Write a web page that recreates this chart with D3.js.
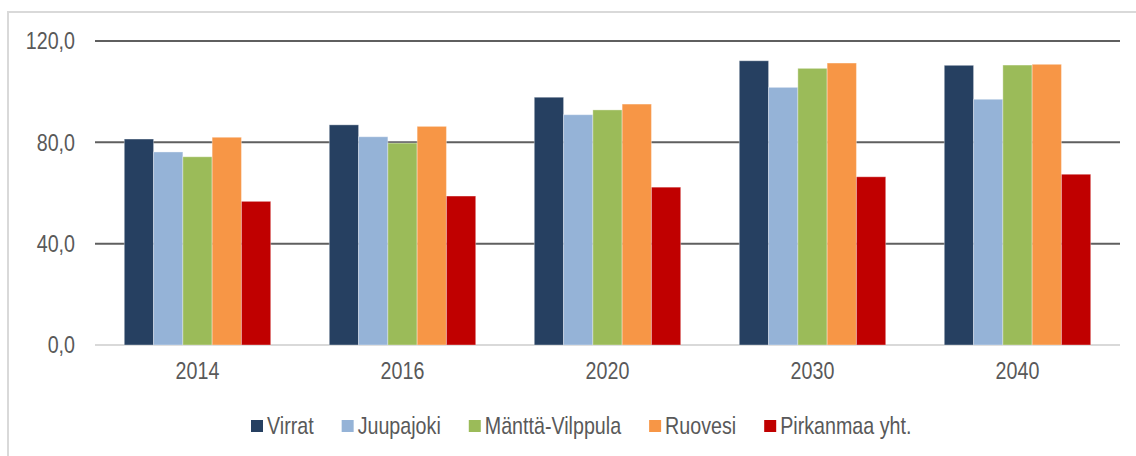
<!DOCTYPE html>
<html lang="fi">
<head>
    <meta charset="UTF-8">
    <title>Pylväskaavio</title>
    <script src="https://d3js.org/d3.v7.min.js"></script>
    <style>
        body {
            margin: 0;
            background: #fff;
        }

        svg {
            font-family: "Liberation Sans", Arial, sans-serif;
        }

        /* narrow look: squeeze the glyphs horizontally */
        .axis text,
        .legend text {
            fill: #595959;
            font-size: 24px;
            transform-box: fill-box;
        }

        .yaxis text {
            transform: scaleX(0.82);
            transform-origin: 100% 50%;
        }

        .xaxis text {
            transform: scaleX(0.82);
            transform-origin: 50% 50%;
        }

        .legend text {
            transform: scaleX(0.82);
            transform-origin: 0% 50%;
        }
    </style>
</head>
<body>
<div id="chart"></div>

<script>

    // data
    var years = ["2014", "2016", "2020", "2030", "2040"];
    var seriesNames = ["Virrat", "Juupajoki", "Mänttä-Vilppula", "Ruovesi", "Pirkanmaa yht."];
    var seriesColors = ["#264061", "#95b3d7", "#9bbb59", "#f79646", "#c00000"];

    var virrat = [81.3, 86.9, 97.8, 112.2, 110.4];
    var juupajoki = [76.2, 82.2, 90.9, 101.7, 97.0];
    var mantta = [74.3, 79.7, 92.8, 109.2, 110.5];
    var ruovesi = [82.0, 86.3, 95.1, 111.3, 110.8];
    var pirkanmaa = [56.7, 58.8, 62.3, 66.4, 67.4];

    var yTicks = [0, 40, 80, 120];

    var values = [virrat, juupajoki, mantta, ruovesi, pirkanmaa];

    // size
    var width = 1136,
        height = 456;
    var plot = {left: 95, right: 1120, top: 41, bottom: 345};
    var squeeze = 0.82;

    var svg = d3.select("#chart").append("svg")
        .attr("width", width)
        .attr("height", height);

    // outer frame
    svg.append("rect")
        .attr("x", 8)
        .attr("y", 12)
        .attr("width", width + 20)
        .attr("height", height + 20)
        .attr("fill", "none")
        .attr("stroke", "#d9d9d9")
        .attr("stroke-width", 2);

    // scales
    var x0 = d3.scaleBand()
        .domain(years)
        .range([plot.left, plot.right])
        .paddingInner(0)
        .paddingOuter(0);

    // gap width 200% -> bars take 5/7 of the category
    var groupWidth = x0.bandwidth() * 5 / 7;
    var x1 = d3.scaleBand()
        .domain(seriesNames)
        .range([0, groupWidth]);

    var y = d3.scaleLinear()
        .domain([0, 120])
        .range([plot.bottom, plot.top]);

    // gridlines
    svg.append("g")
        .selectAll("line")
        .data(yTicks)
        .enter().append("line")
        .attr("x1", plot.left)
        .attr("x2", plot.right)
        .attr("y1", function(d) { return y(d); })
        .attr("y2", function(d) { return y(d); })
        .attr("stroke", function(d) { return d === 0 ? "#d9d9d9" : "#5f5f5f"; })
        .attr("stroke-width", 2);

    // bars
    var groups = svg.append("g")
        .selectAll("g")
        .data(years)
        .enter().append("g")
        .attr("transform", function(d) {
            return "translate(" + (x0(d) + (x0.bandwidth() - groupWidth) / 2) + ",0)";
        });

    groups.selectAll("rect")
        .data(function(d, i) {
            return seriesNames.map(function(s, j) {
                return {name: s, value: values[j][i], color: seriesColors[j]};
            });
        })
        .enter().append("rect")
        .attr("x", function(d) { return x1(d.name); })
        .attr("width", x1.bandwidth())
        .attr("y", function(d) { return y(d.value); })
        .attr("height", function(d) { return y(0) - y(d.value); })
        .attr("fill", function(d) { return d.color; })
        .attr("stroke", "#fff")
        .attr("stroke-opacity", 0.35)
        .attr("stroke-width", 1);

    // y axis labels
    var yAxis = svg.append("g")
        .attr("class", "axis yaxis")
        .attr("transform", "translate(" + plot.left + ",0)")
        .call(d3.axisLeft(y)
            .tickValues(yTicks)
            .tickSize(0)
            .tickPadding(20)
            .tickFormat(function(d) { return d3.format(".1f")(d).replace(".", ","); }));
    yAxis.select(".domain").remove();
    yAxis.attr("font-size", null).attr("font-family", null);

    // x axis labels
    var xAxis = svg.append("g")
        .attr("class", "axis xaxis")
        .attr("transform", "translate(0," + plot.bottom + ")")
        .call(d3.axisBottom(x0).tickSize(0).tickPadding(17));
    xAxis.select(".domain").remove();
    xAxis.attr("font-size", null).attr("font-family", null);

    // legend
    var legend = svg.append("g")
        .attr("class", "legend")
        .attr("transform", "translate(251,420)");

    var lx = 0;
    seriesNames.forEach(function(name, i) {
        var item = legend.append("g").attr("transform", "translate(" + lx + ",0)");
        item.append("rect")
            .attr("width", 12)
            .attr("height", 12)
            .attr("fill", seriesColors[i]);
        var t = item.append("text")
            .attr("x", 16)
            .attr("y", 14)
            .text(name);
        lx += 16 + t.node().getComputedTextLength() * squeeze + 28;
    });

</script>
</body>
</html>
